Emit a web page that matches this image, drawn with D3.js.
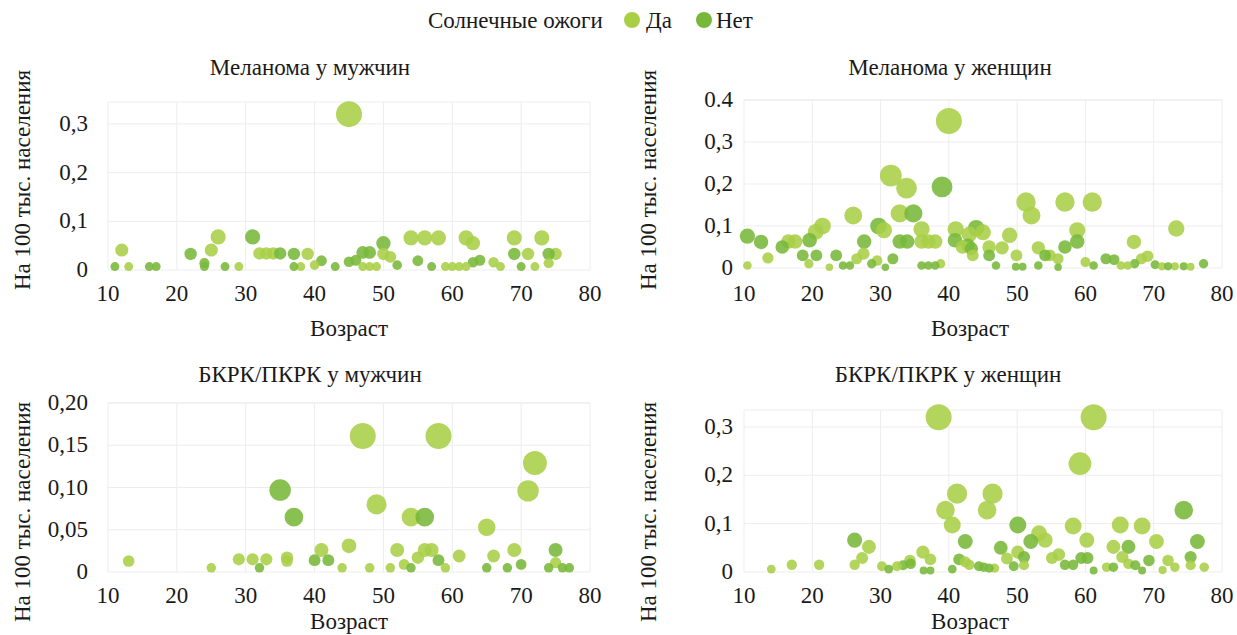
<!DOCTYPE html>
<html>
<head>
<meta charset="utf-8">
<script src="https://cdn.jsdelivr.net/npm/d3@7"></script>
</head>
<body style="margin:0;background:#fff">
<svg id="chart" width="1237" height="635"></svg>
<script>
// legend / series
const seriesNames = ["Да", "Нет"];
const legendTitle = "Солнечные ожоги";
const xTitle = "Возраст";
const yTitle = "На 100 тыс. населения";
const xTicks = [10, 20, 30, 40, 50, 60, 70, 80];

// [age, value] pairs
const melMenYes = [[12,0.041],[13,0.007],[25,0.041],[26,0.068],[29,0.007],[32,0.034],[33,0.034],[34,0.034],
  [38,0.007],[39,0.033],[40,0.01],[45,0.32],[47,0.007],[48,0.007],[49,0.007],[50,0.033],[51,0.027],
  [54,0.066],[56,0.066],[58,0.066],[59,0.007],[60,0.007],[61,0.007],[62,0.007],[62,0.066],[63,0.055],
  [66,0.016],[67,0.007],[69,0.066],[71,0.033],[72,0.007],[73,0.066],[74,0.014],[75,0.033]];
const melMenNo = [[11,0.007],[16,0.007],[17,0.007],[22,0.033],[24,0.014],[24,0.007],[27,0.007],[31,0.068],
  [35,0.034],[37,0.033],[37,0.007],[41,0.019],[43,0.007],[45,0.017],[46,0.02],[47,0.036],[48,0.036],
  [50,0.055],[52,0.01],[55,0.019],[57,0.007],[63,0.016],[64,0.02],[69,0.033],[70,0.007],[74,0.033]];

const melWomYes = [[10.5,0.006],[13.5,0.024],[16.5,0.063],[17.5,0.063],[19.5,0.01],[20.5,0.086],[21.5,0.1],
  [22.5,0.002],[26,0.125],[26.5,0.022],[27.5,0.034],[29.5,0.018],[30.5,0.09],[31.5,0.22],[32.8,0.13],
  [33.8,0.19],[36,0.092],[36,0.063],[37,0.063],[38,0.063],[38.8,0.01],[40,0.35],[41,0.092],[42,0.05],
  [43,0.08],[43.5,0.03],[45,0.085],[45.9,0.05],[47.8,0.048],[48.9,0.078],[49.9,0.03],[51.3,0.157],
  [52.1,0.125],[53.1,0.048],[54.8,0.03],[56,0.022],[57,0.157],[58.8,0.09],[60,0.014],[61,0.157],
  [65.2,0.006],[66.2,0.006],[67.1,0.062],[68.2,0.022],[69.1,0.028],[71.2,0.004],[73.1,0.004],
  [73.3,0.094],[75.4,0.003]];
const melWomNo = [[10.5,0.076],[12.5,0.062],[15.6,0.05],[18.6,0.03],[19.6,0.066],[20.6,0.03],[23.5,0.03],
  [24.5,0.006],[25.5,0.006],[27.6,0.063],[28.7,0.01],[29.7,0.1],[30.7,0.002],[31.8,0.022],[32.8,0.063],
  [33.9,0.063],[34.8,0.13],[36,0.006],[37,0.006],[38,0.006],[39,0.193],[40.9,0.066],[42.8,0.054],
  [43.3,0.046],[44,0.095],[45.9,0.03],[46.9,0.006],[49.8,0.003],[50.8,0.003],[53.1,0.006],[54.1,0.03],
  [56,0.002],[57,0.05],[58.8,0.063],[61.2,0.006],[63,0.022],[64.2,0.02],[67.2,0.01],[70.2,0.008],
  [72.1,0.004],[74.4,0.004],[77.3,0.01]];

const bkrkMenYes = [[13,0.013],[25,0.005],[29,0.015],[31,0.015],[33,0.015],[36,0.017],[36,0.013],[41,0.026],
  [44,0.005],[45,0.031],[47,0.161],[48,0.005],[49,0.08],[51,0.005],[52,0.026],[53,0.009],[54,0.065],
  [55,0.017],[56,0.026],[57,0.026],[58,0.161],[59,0.005],[61,0.019],[65,0.053],[66,0.019],[69,0.026],
  [71,0.096],[72,0.129],[75,0.011]];
const bkrkMenNo = [[32,0.005],[35,0.097],[37,0.065],[40,0.014],[42,0.014],[54,0.005],[56,0.065],[58,0.014],
  [65,0.005],[68,0.005],[70,0.009],[74,0.005],[75,0.026],[76,0.005],[77,0.005]];

const bkrkWomYes = [[14,0.006],[17,0.015],[21,0.015],[26.2,0.015],[27.3,0.029],[28.3,0.052],[30.2,0.012],
  [32.4,0.012],[34.3,0.024],[36.2,0.041],[37.3,0.026],[38.5,0.32],[39.5,0.128],[40.5,0.097],[41.2,0.162],
  [42.4,0.021],[43,0.015],[45.6,0.128],[46.4,0.162],[46.7,0.008],[48.5,0.028],[50.1,0.041],[51,0.014],
  [53.2,0.08],[54.1,0.066],[55.1,0.029],[56.1,0.036],[58.2,0.095],[59.2,0.224],[60.2,0.066],[61.2,0.32],
  [63.1,0.01],[64.1,0.052],[65.1,0.097],[65.4,0.031],[66.3,0.017],[68.3,0.095],[70.4,0.063],[71.3,0.004],
  [72.1,0.024],[73.1,0.01],[75.4,0.014],[77.4,0.01]];
const bkrkWomNo = [[26.2,0.066],[31.2,0.006],[33.3,0.014],[34.4,0.017],[36.3,0.003],[37.3,0.003],[40.5,0.006],
  [41.5,0.026],[42.4,0.063],[44.4,0.012],[45.1,0.01],[45.9,0.008],[47.6,0.05],[49.5,0.012],[50.1,0.097],
  [51,0.031],[52,0.063],[57,0.015],[58.2,0.015],[59.4,0.029],[60.3,0.029],[61.2,0.003],[64.1,0.01],
  [66.3,0.052],[67.3,0.014],[68.3,0.003],[69.3,0.024],[74.4,0.128],[75.4,0.031],[76.4,0.063]];

// y ticks per panel
const melMenTicks = [0, 0.1, 0.2, 0.3];
const melMenLabels = ["0", "0,1", "0,2", "0,3"];
const melWomTicks = [0, 0.1, 0.2, 0.3, 0.4];
const melWomLabels = ["0", "0,1", "0,2", "0,3", "0.4"];
const bkrkMenTicks = [0, 0.05, 0.10, 0.15, 0.20];
const bkrkMenLabels = ["0", "0,05", "0,10", "0,15", "0,20"];
const bkrkWomTicks = [0, 0.1, 0.2, 0.3];
const bkrkWomLabels = ["0", "0,1", "0,2", "0,3"];

const colors = {"Да": "#a9cf47", "Нет": "#77b83a"};
const textColor = "#1a1a1a";
const fontSize = 23;
const serifName = "Liberation Serif";

const svg = d3.select("#chart");

// all text goes through here; the font goes into the style attribute as one string
function label(parent, str)
{
    return parent.append("text")
        .attr("style", `font: ${fontSize}px "${serifName}"; fill: ${textColor}`)
        .text(str);
}

// legend
const legend = svg.append("g");
label(legend, legendTitle).attr("x", 428).attr("y", 28);
legend.append("circle").attr("cx", 632).attr("cy", 20).attr("r", 8).attr("fill", colors["Да"]);
label(legend, seriesNames[0]).attr("x", 646).attr("y", 28);
legend.append("circle").attr("cx", 704).attr("cy", 20).attr("r", 8).attr("fill", colors["Нет"]);
label(legend, seriesNames[1]).attr("x", 716).attr("y", 28);

function drawPanel(p)
{
    const x = d3.scaleLinear().domain([10, 80]).range([p.left, p.right]);
    const y = d3.scaleLinear().domain([0, p.yMax]).range([p.bottom, p.top]);
    const maxVal = d3.max(p.yes.concat(p.no), d => d[1]);
    const r = d3.scaleSqrt().domain([0, maxVal]).range([3, 13]);

    const g = svg.append("g");

    // grid
    g.append("g").selectAll("line").data(xTicks).join("line")
        .attr("x1", d => x(d)).attr("x2", d => x(d))
        .attr("y1", p.top).attr("y2", p.bottom)
        .attr("stroke", "#ededed").attr("stroke-width", 1);
    g.append("g").selectAll("line").data(p.ticks.concat([p.yMax])).join("line")
        .attr("x1", p.left).attr("x2", p.right)
        .attr("y1", d => y(d)).attr("y2", d => y(d))
        .attr("stroke", "#ededed").attr("stroke-width", 1);

    // x tick labels, placed by the scale
    g.append("g").selectAll("text").data(xTicks).join(
        enter => label(enter, d => d)
            .attr("x", d => x(d))
            .attr("y", p.bottom + p.xPad)
            .attr("text-anchor", "middle"));

    // y tick labels
    g.append("g").selectAll("text").data(p.ticks).join(
        enter => label(enter, (d, i) => p.labels[i])
            .attr("x", p.left - p.yPad)
            .attr("y", d => y(d) + 7)
            .attr("text-anchor", "end"));

    // bubbles, big ones first
    const pts = p.yes.map(d => ({age: d[0], v: d[1], s: "Да"}))
        .concat(p.no.map(d => ({age: d[0], v: d[1], s: "Нет"})))
        .sort((a, b) => b.v - a.v);
    g.append("g").selectAll("circle").data(pts).join("circle")
        .attr("cx", d => x(d.age))
        .attr("cy", d => y(d.v))
        .attr("r", d => r(d.v))
        .attr("fill", d => colors[d.s])
        .attr("fill-opacity", 0.88);

    // titles
    label(g, p.title).attr("x", p.titleX).attr("y", p.titleY).attr("text-anchor", "middle");
    label(g, xTitle).attr("x", p.xTitleX).attr("y", p.xTitleY).attr("text-anchor", "middle");
    label(g, yTitle)
        .attr("transform", `translate(${p.yTitleX},${p.yTitleY}) rotate(-90)`)
        .attr("text-anchor", "middle");
}

drawPanel({title: "Меланома у мужчин", yes: melMenYes, no: melMenNo,
    ticks: melMenTicks, labels: melMenLabels, yMax: 0.345,
    left: 108, right: 590, top: 102, bottom: 270, xPad: 31, yPad: 20,
    titleX: 310, titleY: 75, xTitleX: 349, xTitleY: 336, yTitleX: 30, yTitleY: 180});
drawPanel({title: "Меланома у женщин", yes: melWomYes, no: melWomNo,
    ticks: melWomTicks, labels: melWomLabels, yMax: 0.4,
    left: 744, right: 1222, top: 100, bottom: 268, xPad: 33, yPad: 11,
    titleX: 950, titleY: 75, xTitleX: 970, xTitleY: 336, yTitleX: 656, yTitleY: 180});
drawPanel({title: "БКРК/ПКРК у мужчин", yes: bkrkMenYes, no: bkrkMenNo,
    ticks: bkrkMenTicks, labels: bkrkMenLabels, yMax: 0.2,
    left: 108, right: 590, top: 403, bottom: 572, xPad: 31, yPad: 20,
    titleX: 310, titleY: 382, xTitleX: 349, xTitleY: 629, yTitleX: 30, yTitleY: 512});
drawPanel({title: "БКРК/ПКРК у женщин", yes: bkrkWomYes, no: bkrkWomNo,
    ticks: bkrkWomTicks, labels: bkrkWomLabels, yMax: 0.335,
    left: 744, right: 1222, top: 410, bottom: 572, xPad: 31, yPad: 11,
    titleX: 948, titleY: 382, xTitleX: 970, xTitleY: 629, yTitleX: 656, yTitleY: 512});
</script>
</body>
</html>
